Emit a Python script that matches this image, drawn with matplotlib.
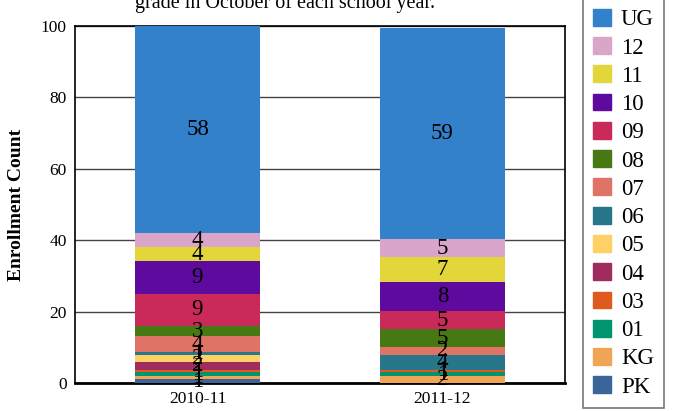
import matplotlib.pyplot as plt
from matplotlib.patches import Patch

plt.rcParams['font.family'] = ['Liberation Serif', 'DejaVu Serif']

# Données (en pourcentage de l'inscription)
years = ["2010-11", "2011-12"]
grades = ["PK", "KG", "01", "03", "04", "05", "06", "07", "08", "09", "10", "11", "12", "UG"]
values_2010 = [1.1, 0.75, 1.1, 0.75, 2.2, 2.0, 0.75, 4.4, 3.0, 9.0, 9.1, 3.9, 3.85, 58.1]
values_2011 = [0.0, 1.9, 1.1, 0.75, 0.0, 0.0, 4.2, 2.05, 5.0, 5.1, 8.1, 7.0, 5.0, 59.3]
colors = ["#3A6598", "#F0A455", "#00956E", "#DE5A1E", "#A02B5E", "#FFD066", "#27768A",
          "#DE7366", "#467813", "#CA2A5A", "#5E0A9E", "#E3D63A", "#D9A5C9", "#3481CB"]

fig = plt.figure(figsize=(6.76, 4.11), dpi=100)
ax = fig.add_axes([75 / 676, 28 / 411, 490 / 676, 357 / 411])

x = range(len(years))
bottoms = [0.0, 0.0]
for i, grade in enumerate(grades):
    vals = [values_2010[i], values_2011[i]]
    ax.bar(x, vals, width=0.51, bottom=bottoms, color=colors[i], zorder=3, linewidth=0)
    for xi, v, b in zip(x, vals, bottoms):
        if v > 0:
            ax.text(xi, b + v / 2, str(round(v)), ha="center", va="center",
                    fontsize=16.5, color="black", zorder=4)
    bottoms = [b + v for b, v in zip(bottoms, vals)]

ax.set_xlim(-0.5, 1.5)
ax.set_ylim(0, 100)
ax.set_xticks(list(x))
ax.set_xticklabels(years, fontsize=12.5)
ax.set_yticks([0, 20, 40, 60, 80, 100])
ax.set_yticklabels(["0", "20", "40", "60", "80", "100"], fontsize=12.5)
ax.tick_params(length=0, pad=6)
ax.yaxis.grid(True, color="#444444", linewidth=1, zorder=1)
for side in ["top", "right", "left"]:
    ax.spines[side].set_color("black")
    ax.spines[side].set_linewidth(1.2)
ax.spines["bottom"].set_linewidth(2)
ax.set_ylabel("Enrollment Count", fontsize=14, fontweight="bold", labelpad=11)

# Titre coupé en haut de l'image
fig.text(285 / 676, 1 - 8 / 411, "grade in October of each school year.",
         ha="center", va="baseline", fontsize=14.5)

# Légende
handles = [Patch(color=c, label=g) for g, c in zip(grades, colors)][::-1]
leg = fig.legend(handles=handles, loc="lower left", bbox_to_anchor=(583 / 676, 3 / 411),
                 borderaxespad=0, fontsize=16.5, handlelength=0.75, handleheight=0.75,
                 handletextpad=0.45, labelspacing=0.3, frameon=True, fancybox=False,
                 borderpad=0.45)
leg.get_frame().set_edgecolor("#555555")
leg.get_frame().set_linewidth(1.2)

plt.savefig("out.png", dpi=100)
plt.close()
